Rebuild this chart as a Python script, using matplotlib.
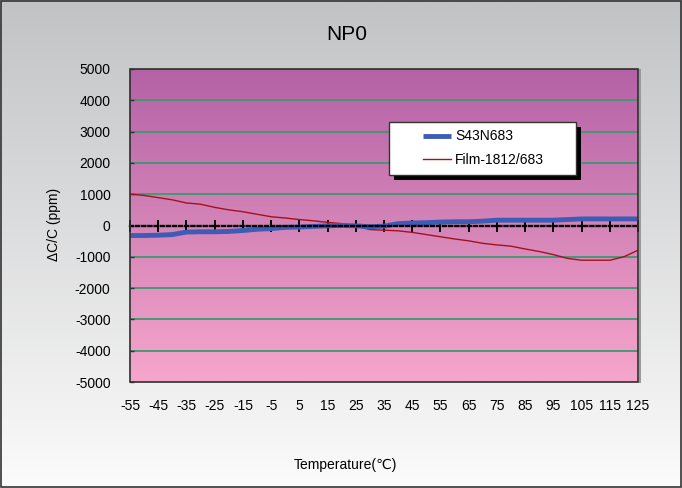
import numpy as np
import matplotlib
matplotlib.use("Agg")
import matplotlib.pyplot as plt
from matplotlib.patches import Rectangle
from matplotlib.colors import LinearSegmentedColormap

plt.rcParams['font.family'] = ['Liberation Sans', 'DejaVu Sans']

# ---- data ----
temperature = list(range(-55, 130, 5))
s43n683 = [-320, -320, -310, -290, -210, -200, -200, -190, -160, -120, -100, -60, -50,
           -30, -10, 0, -10, -40, -20, 60, 80, 90, 110, 120, 120, 140, 170, 170, 170,
           170, 170, 190, 210, 210, 210, 210, 210]
film1812 = [1000, 960, 890, 820, 720, 680, 580, 500, 440, 360, 280, 240, 190, 150, 100,
            60, -20, -130, -150, -170, -220, -290, -360, -430, -490, -570, -620, -660,
            -750, -830, -930, -1050, -1110, -1110, -1110, -1000, -790]
x_ticks = list(range(-55, 126, 10))
y_ticks = list(range(-5000, 5001, 1000))
title = "NP0"
xlabel = "Temperature(\u2103)"
ylabel = "\u0394C/C (ppm)"
series_names = ["S43N683", "Film-1812/683"]

W, H = 682, 488
fig = plt.figure(figsize=(W / 100, H / 100), dpi=100)

# figure gradient background
bg = fig.add_axes([0, 0, 1, 1], zorder=-10)
bg.axis('off')
bg.set_xlim(0, 1)
bg.set_ylim(0, 1)
fig_cmap = LinearSegmentedColormap.from_list('fg', ['#c2c3c5', '#fbfbfb'])
bg.imshow(np.linspace(0, 1, 256).reshape(-1, 1), aspect='auto', cmap=fig_cmap,
          extent=[0, 1, 0, 1], transform=bg.transAxes)
bg.add_patch(Rectangle((0.0015, 0.002), 0.997, 0.996, transform=bg.transAxes,
                       fill=False, edgecolor='#333333', lw=1.2))

def fx(px):
    return px / W

def fy(py):
    return 1 - py / H

L, R, T, B = 130, 638, 69, 382
ax = fig.add_axes([L / W, 1 - B / H, (R - L) / W, (B - T) / H])
ax.set_xlim(-55, 125)
ax.set_ylim(-5000, 5000)

plot_cmap = LinearSegmentedColormap.from_list('pa', ['#b462a6', '#f6a6cb'])
ax.imshow(np.linspace(0, 1, 256).reshape(-1, 1), aspect='auto', cmap=plot_cmap,
          extent=[0, 1, 0, 1], transform=ax.transAxes, zorder=0)

# gridlines (none at 0 where the dotted axis sits)
grid_levels = [v for v in y_ticks if v not in (0, -5000, 5000)]
ax.hlines(grid_levels, -55, 125, colors='#3a9a6e', lw=1.3, zorder=1)

l_film, = ax.plot(temperature, film1812, color='#a3121c', lw=1.0, zorder=3)
l_s43, = ax.plot(temperature, s43n683, color='#3d5cb5', lw=3.5, zorder=4,
                 solid_capstyle='butt')

# dotted zero axis with crossing tick marks
for s in ['top', 'left', 'right']:
    ax.spines[s].set_visible(False)
ax.spines['bottom'].set_position(('data', 0))
ax.spines['bottom'].set_linestyle((0, (1.3, 1.3)))
ax.spines['bottom'].set_linewidth(1.7)
ax.spines['bottom'].set_zorder(5)
ax.set_xticks(x_ticks)
ax.tick_params(axis='x', direction='inout', length=8, width=1.4, color='black',
               labelbottom=False)

ax.set_yticks(y_ticks)
ax.set_yticklabels([str(v) for v in y_ticks], fontsize=10)
ax.tick_params(axis='y', direction='in', length=3, width=1, color='#333333', pad=14)

# frame
ax.add_patch(Rectangle((0, 0), 1, 1, transform=ax.transAxes, fill=False,
                       edgecolor='#2e2e2e', lw=1.2, zorder=6, clip_on=False))
ax.add_patch(Rectangle((1.002, -0.004), 0.004, 1.004, transform=ax.transAxes,
                       facecolor='#9a9a9a', edgecolor='none', zorder=6, clip_on=False))

# bottom tick labels
sec = ax.secondary_xaxis('bottom')
sec.set_xticks(x_ticks)
sec.set_xticklabels([str(v) for v in x_ticks], fontsize=10)
sec.tick_params(length=0, pad=12)
sec.spines['bottom'].set_visible(False)

fig.text(fx(347), fy(34), title, ha='center', va='center', fontsize=15)
fig.text(fx(345), fy(465), xlabel, ha='center', va='center', fontsize=10)
fig.text(fx(54), fy(224), ylabel, ha='center', va='center', rotation=90, fontsize=10)

# legend box with shadow (figure pixels)
lx0, ly0, lx1, ly1 = 389, 122, 576, 175
shadow = Rectangle((fx(lx0 + 5), fy(ly1 + 5)), fx(lx1 - lx0), (ly1 - ly0) / H,
                   transform=fig.transFigure, facecolor='black', edgecolor='none',
                   zorder=20)
fig.patches.append(shadow)
box = Rectangle((fx(lx0), fy(ly1)), fx(lx1 - lx0), (ly1 - ly0) / H,
                transform=fig.transFigure, facecolor='white', edgecolor='#333333',
                lw=1.0, zorder=21)
fig.patches.append(box)
leg = fig.legend([l_s43, l_film], series_names, loc='center left',
                 bbox_to_anchor=(fx(423), fy(148)), frameon=False, fontsize=10,
                 handlelength=2.0, handletextpad=0.3, borderpad=0, borderaxespad=0,
                 labelspacing=0.65)
leg.set_zorder(30)

fig.savefig('out.png', dpi=100)
